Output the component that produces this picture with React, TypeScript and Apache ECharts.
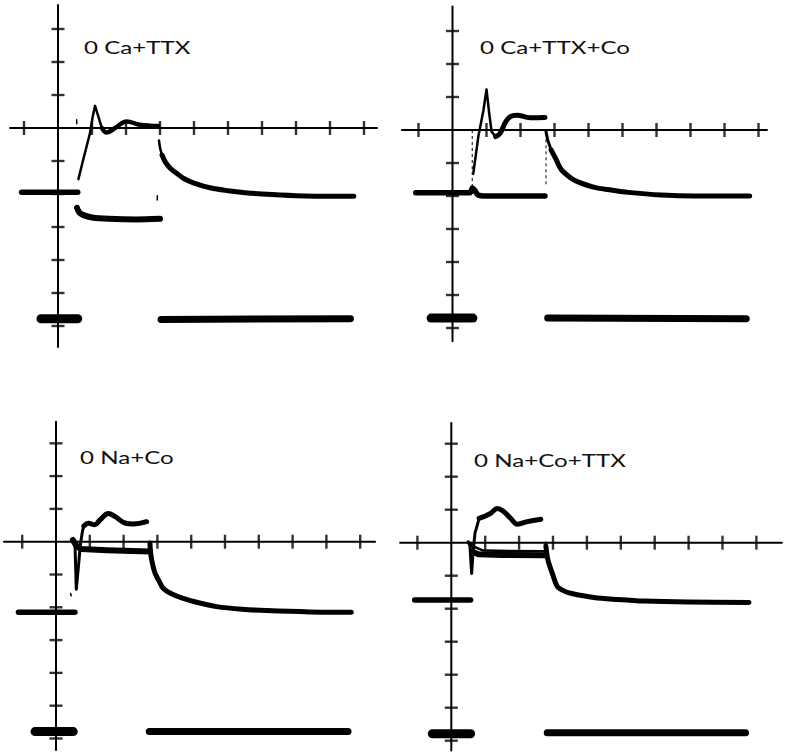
import React, { useEffect, useRef } from 'react';
import * as echarts from 'echarts';

type Pt = [number, number];

// Grid divisions (oscilloscope graticule ticks)
const xTicks = [-1, 1, 2, 3, 4, 5, 6, 7, 8, 9];
const yTicks = [3, 2, 1, -1, -2, -3, -4, -5, -6];

const titles = ['0 Ca+TTX', '0 Ca+TTX+Co', '0 Na+Co', '0 Na+Co+TTX'];

// ---- Panel 1: 0 Ca+TTX ----
const p1Hold: Pt[] = [[-1.07, -1.95], [0.58, -1.95]];
const p1StimA: Pt[] = [[-0.5, -5.78], [0.58, -5.78]];
const p1StimB: Pt[] = [[3.03, -5.8], [8.6, -5.78]];
const p1Step: Pt[] = [[0.56, -2.42], [0.62, -2.55], [0.75, -2.64], [1.0, -2.71], [1.5, -2.75], [2.3, -2.77], [3.0, -2.75]];
const p1Rise: Pt[] = [[0.6, -1.55], [0.74, -0.97], [0.94, -0.16], [1.02, 0.34], [1.09, 0.67], [1.19, 0.34], [1.29, 0]];
const p1Ring: Pt[] = [[1.29, 0], [1.43, -0.14], [1.68, 0.0], [2.02, 0.2], [2.4, 0.1], [2.95, 0.06]];
const p1TailStart: Pt[] = [[2.97, -0.38], [3.0, -0.6], [3.06, -0.82]];
const p1Tail: Pt[] = [[3.06, -0.82], [3.15, -1.02], [3.3, -1.22], [3.5, -1.38], [3.7, -1.53], [4.0, -1.67], [4.5, -1.82], [5.0, -1.9], [5.5, -1.96], [6.0, -2.0], [7.0, -2.05], [8.0, -2.07], [8.7, -2.07]];
const p1MarkA: Pt[] = [[0.55, 0.25], [0.55, 0.13]];
const p1MarkB: Pt[] = [[2.92, -2.05], [2.92, -2.18]];

// ---- Panel 2: 0 Ca+TTX+Co ----
const p2Hold: Pt[] = [[-1.08, -1.9], [0.52, -1.9], [0.58, -1.76], [0.65, -1.82], [0.75, -1.97], [1.0, -2.0], [2.0, -2.0], [2.72, -2.0]];
const p2StimA: Pt[] = [[-0.63, -5.7], [0.6, -5.7]];
const p2StimB: Pt[] = [[2.8, -5.7], [8.64, -5.72]];
const p2Rise: Pt[] = [[0.61, -1.33], [0.76, -0.2], [0.91, 0.6], [1.0, 1.23], [1.08, 0.5], [1.15, -0.05], [1.27, -0.2]];
const p2Ring: Pt[] = [[1.27, -0.2], [1.4, -0.1], [1.55, 0.22], [1.69, 0.4], [1.89, 0.45], [2.28, 0.37], [2.72, 0.38]];
const p2DashA: Pt[] = [[0.58, 0.0], [0.58, -1.7]];
const p2DashB: Pt[] = [[2.75, -0.1], [2.75, -1.72]];
const p2TailStart: Pt[] = [[2.75, -0.05], [2.8, -0.3], [2.9, -0.6]];
const p2Tail: Pt[] = [[2.9, -0.6], [3.05, -0.9], [3.2, -1.2], [3.49, -1.46], [3.69, -1.57], [4.18, -1.74], [4.67, -1.82], [5.16, -1.89], [6.14, -1.97], [7.12, -2.0], [8.74, -2.0]];

// ---- Panel 3: 0 Na+Co ----
const p3Hold: Pt[] = [[-1.11, -2.15], [0.56, -2.15]];
const p3StimA: Pt[] = [[-0.62, -5.79], [0.51, -5.79]];
const p3StimB: Pt[] = [[2.76, -5.79], [8.64, -5.79]];
const p3Spike: Pt[] = [[0.5, 0.1], [0.56, 0.0], [0.6, -1.45], [0.66, -0.8], [0.72, -0.1], [0.78, 0.3], [0.82, 0.48]];
const p3Upper: Pt[] = [[0.82, 0.48], [0.96, 0.56], [1.15, 0.52], [1.3, 0.66], [1.55, 0.86], [1.74, 0.77], [2.04, 0.57], [2.29, 0.54], [2.68, 0.61]];
const p3Pulse: Pt[] = [[0.5, 0.05], [0.62, -0.15], [0.75, -0.22], [1.5, -0.26], [2.78, -0.3]];
const p3Edge: Pt[] = [[2.78, 0.0], [2.78, -0.3]];
const p3Tail: Pt[] = [[2.78, -0.05], [2.8, -0.35], [2.85, -0.65], [2.93, -0.96], [3.05, -1.2], [3.17, -1.42], [3.4, -1.58], [3.76, -1.73], [4.25, -1.87], [4.75, -1.98], [5.5, -2.06], [6.23, -2.1], [7.5, -2.14], [8.74, -2.15]];
const p3Dot: Pt[] = [[0.43, -1.58], [0.45, -1.65]];

// ---- Panel 4: 0 Na+Co+TTX ----
const p4Hold: Pt[] = [[-1.08, -1.74], [0.57, -1.74]];
const p4StimA: Pt[] = [[-0.56, -5.79], [0.57, -5.79]];
const p4StimB: Pt[] = [[2.83, -5.76], [8.68, -5.76]];
const p4Spike: Pt[] = [[0.5, 0.03], [0.55, -0.1], [0.6, -0.93], [0.64, -0.3], [0.7, 0.3], [0.77, 0.55], [0.82, 0.74]];
const p4Upper: Pt[] = [[0.82, 0.74], [0.96, 0.79], [1.16, 0.89], [1.36, 1.04], [1.55, 0.94], [1.75, 0.74], [1.95, 0.56], [2.24, 0.64], [2.64, 0.71]];
const p4PulseTop: Pt[] = [[0.55, 0.0], [0.62, -0.1], [0.94, -0.24], [2.79, -0.26]];
const p4PulseLow: Pt[] = [[0.64, -0.28], [0.8, -0.35], [1.5, -0.37], [2.79, -0.38]];
const p4EdgeR: Pt[] = [[2.79, 0.0], [2.79, -0.43]];
const p4EdgeL: Pt[] = [[0.57, 0.0], [0.57, -0.35]];
const p4Tail: Pt[] = [[2.79, -0.1], [2.83, -0.42], [2.88, -0.63], [2.98, -0.93], [3.13, -1.33], [3.32, -1.46], [3.52, -1.53], [4.21, -1.66], [4.9, -1.72], [5.68, -1.77], [7.0, -1.8], [8.78, -1.81]];

type Trace = { data: Pt[]; w: number; smooth?: number; dashed?: boolean };

const panels = [
  {
    ox: 58, oy: 128, sx: 34, sy: 33, ymin: -6.8,
    xExt: [-1.41, 9.38], yExt: [3.73, -6.64],
    title: { x: 84, y: 47 },
    traces: [
      { data: p1Hold, w: 5.5 }, { data: p1StimA, w: 9 }, { data: p1StimB, w: 7 },
      { data: p1Step, w: 6, smooth: 0.3 }, { data: p1Rise, w: 2.5 }, { data: p1Ring, w: 4.5, smooth: 0.4 },
      { data: p1TailStart, w: 2.5 }, { data: p1Tail, w: 5, smooth: 0.3 },
      { data: p1MarkA, w: 1.5 }, { data: p1MarkB, w: 1.5 },
    ] as Trace[],
  },
  {
    ox: 452.5, oy: 130, sx: 34, sy: 33, ymin: -6.8,
    xExt: [-1.49, 9.25], yExt: [3.74, -6.4],
    title: { x: 480, y: 47 },
    traces: [
      { data: p2Hold, w: 5.5, smooth: 0.2 }, { data: p2StimA, w: 9 }, { data: p2StimB, w: 7 },
      { data: p2Rise, w: 2.5 }, { data: p2Ring, w: 5, smooth: 0.4 },
      { data: p2DashA, w: 1, dashed: true }, { data: p2DashB, w: 1, dashed: true },
      { data: p2TailStart, w: 3 }, { data: p2Tail, w: 5, smooth: 0.3 },
    ] as Trace[],
  },
  {
    ox: 56, oy: 541.7, sx: 33.8, sy: 32.8, ymin: -6.45,
    xExt: [-1.54, 9.44], yExt: [3.66, -6.35],
    title: { x: 80, y: 457 },
    traces: [
      { data: p3Hold, w: 5.5 }, { data: p3StimA, w: 9 }, { data: p3StimB, w: 7 },
      { data: p3Spike, w: 3 }, { data: p3Upper, w: 5, smooth: 0.4 },
      { data: p3Pulse, w: 6 }, { data: p3Edge, w: 2.5 },
      { data: p3Tail, w: 5, smooth: 0.3 }, { data: p3Dot, w: 1.5 },
    ] as Trace[],
  },
  {
    ox: 451.3, oy: 542.7, sx: 33.9, sy: 33, ymin: -6.38,
    xExt: [-1.51, 9.75], yExt: [3.63, -6.3],
    title: { x: 474, y: 460 },
    traces: [
      { data: p4Hold, w: 5.5 }, { data: p4StimA, w: 9 }, { data: p4StimB, w: 7 },
      { data: p4Spike, w: 3 }, { data: p4Upper, w: 5, smooth: 0.4 },
      { data: p4PulseTop, w: 2.5 }, { data: p4PulseLow, w: 6 },
      { data: p4EdgeR, w: 2.5 }, { data: p4EdgeL, w: 2 },
      { data: p4Tail, w: 5, smooth: 0.3 },
    ] as Trace[],
  },
];

const XMIN = -1.6;
const XMAX = 9.8;
const YMAX = 3.8;

export default function App() {
  const ref = useRef<HTMLDivElement>(null);

  useEffect(() => {
    if (!ref.current) return;
    const chart = echarts.init(ref.current, undefined, { renderer: 'svg' });

    const grid: any[] = [];
    const xAxis: any[] = [];
    const yAxis: any[] = [];
    const series: any[] = [];
    const graphic: any[] = [];

    panels.forEach((p, i) => {
      grid.push({
        left: p.ox + XMIN * p.sx,
        top: p.oy - YMAX * p.sy,
        width: (XMAX - XMIN) * p.sx,
        height: (YMAX - p.ymin) * p.sy,
        containLabel: false,
      });
      xAxis.push({ type: 'value', gridIndex: i, min: XMIN, max: XMAX, show: false });
      yAxis.push({ type: 'value', gridIndex: i, min: p.ymin, max: YMAX, show: false });

      const lineBase = (data: Pt[], w: number, extra: any = {}) => ({
        type: 'line',
        xAxisIndex: i,
        yAxisIndex: i,
        data,
        symbol: 'none',
        silent: true,
        clip: false,
        lineStyle: { color: '#000', width: w, cap: 'round', join: 'round', ...(extra.lineStyle || {}) },
        smooth: extra.smooth || false,
        z: extra.z || 2,
      });

      // graticule axes
      series.push(lineBase([[p.xExt[0], 0], [p.xExt[1], 0]], 2, { z: 1 }));
      series.push(lineBase([[0, p.yExt[0]], [0, p.yExt[1]]], 2, { z: 1 }));
      series.push({
        type: 'scatter', xAxisIndex: i, yAxisIndex: i, silent: true, z: 1,
        symbol: 'rect', symbolSize: [2.4, 14],
        itemStyle: { color: '#000' },
        data: xTicks.map((t) => [t, 0]),
      });
      series.push({
        type: 'scatter', xAxisIndex: i, yAxisIndex: i, silent: true, z: 1,
        symbol: 'rect', symbolSize: [13, 2.4],
        itemStyle: { color: '#000' },
        data: yTicks.map((t) => [0, t]),
      });

      p.traces.forEach((t) => {
        series.push(
          lineBase(t.data, t.w, {
            smooth: t.smooth,
            lineStyle: t.dashed ? { type: [3, 3], cap: 'butt' } : {},
          })
        );
      });

      graphic.push({
        type: 'text',
        x: p.title.x,
        y: p.title.y,
        scaleX: 1.42,
        style: {
          text: titles[i],
          fontFamily: 'Lato',
          fontSize: 17,
          fill: '#111',
          verticalAlign: 'middle',
          align: 'left',
        },
      });
    });

    chart.setOption({
      animation: false,
      backgroundColor: '#fff',
      grid,
      xAxis,
      yAxis,
      series,
      graphic,
    });

    return () => chart.dispose();
  }, []);

  return (
    <div
      ref={ref}
      style={{ position: 'absolute', left: 0, top: 0, width: 788, height: 754, background: '#fff' }}
    />
  );
}
